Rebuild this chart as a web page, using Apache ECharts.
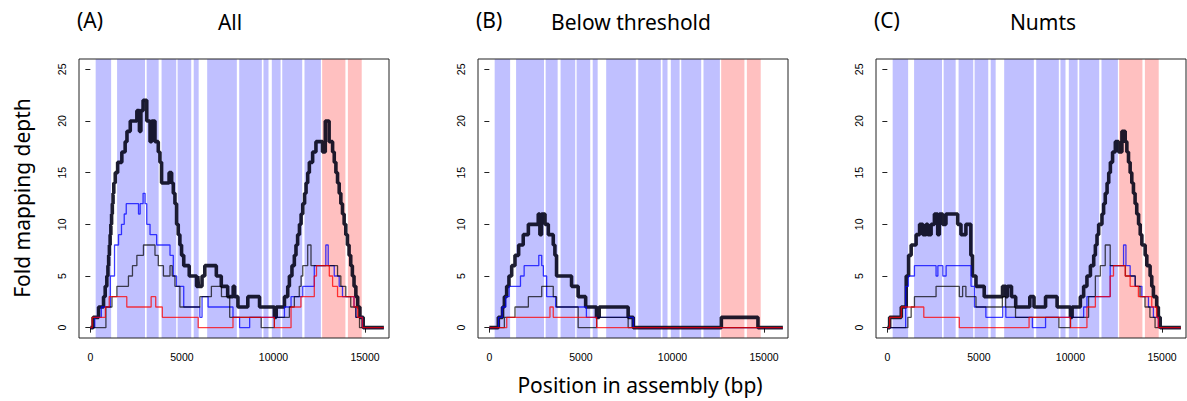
<!DOCTYPE html>
<html>
<head>
<meta charset="utf-8">
<script src="https://cdn.jsdelivr.net/npm/echarts@6/dist/echarts.min.js"></script>
<style>
  html, body { margin: 0; padding: 0; background: #fff; }
  #chart { width: 1187px; height: 401px; }
</style>
</head>
<body>
<div id="chart"></div>
<script>
// tick labels
var xTicks = [0, 5000, 10000, 15000];
var yTicks = [0, 5, 10, 15, 20, 25];

// annotated regions (bp), drawn as background bands
var blueBands = [[290, 1135], [1460, 2985], [3075, 3730], [3890, 4690], [4765, 5510], [5645, 5915],
  [6380, 8000], [8130, 9365], [9455, 9730], [9910, 10390], [10480, 11570], [11695, 12590]];
var redBands = [[12660, 13930], [14065, 14820]];

// depth steps: [position, depth], depth holds until the next position
var allTotal = [[0,0],[150,1],[450,2],[720,3],[810,4],[900,5],[960,6],[1000,7],[1040,8],[1080,9],[1120,10],
  [1160,11],[1200,12],[1240,13],[1280,14],[1360,15],[1490,16],[1720,17],[1900,18],[2000,19],[2180,20],[2540,21],
  [2680,19],[2760,21],[2880,22],[3080,20],[3260,18],[3350,20],[3530,18],[3710,17],[3800,16],[3890,14],[4300,15],
  [4440,14],[4530,13],[4620,12],[4710,10],[4800,9],[4890,8],[4980,7],[5100,6],[5400,5],[5800,4],[5870,5],[5900,4],
  [6100,5],[6250,6],[6880,5],[7150,4],[7500,3],[7800,4],[7880,3],[8060,2],[8600,3],[9240,2],[10050,1],[10150,2],
  [10600,3],[10780,4],[10870,5],[11010,6],[11140,7],[11230,8],[11320,9],[11420,10],[11510,11],[11600,12],
  [11700,13],[11780,14],[11870,15],[11960,16],[12140,17],[12320,18],[12680,17],[12830,20],[13040,18],[13230,17],
  [13320,16],[13410,15],[13500,14],[13590,13],[13680,12],[13770,11],[13860,10],[13950,9],[14040,8],[14130,7],
  [14220,6],[14310,5],[14400,4],[14500,3],[14600,2],[14720,1],[14900,0],[16030,0]];
var allBlue = [[0,0],[250,1],[600,2],[1090,5],[1320,8],[1540,9],[1700,10],[1850,11],[1960,12],[2630,11],[2720,12],
  [2880,13],[2990,12],[3080,10],[3260,9],[3620,8],[4350,7],[4530,5],[4710,4],[5100,2],[5980,1],[6100,3],[6430,2],
  [7790,1],[8150,0],[8700,1],[10600,2],[10960,3],[11600,4],[12230,6],[12860,8],[12990,6],[13320,5],[13590,4],
  [13770,3],[14400,2],[14500,1],[14860,0],[16030,0]];
var allGrey = [[0,0],[850,2],[1180,3],[1450,4],[2080,5],[2300,6],[2540,7],[2900,8],[3530,7],[3710,6],[3990,5],
  [4350,6],[4470,5],[4620,4],[4890,2],[5980,3],[6610,4],[7160,3],[7610,1],[9330,0],[10050,1],[10870,2],[11140,3],
  [11410,4],[11510,5],[11600,6],[11870,8],[12050,6],[13500,5],[13680,4],[13950,3],[14220,2],[14500,1],[14700,0],
  [16030,0]];
var allRed = [[0,0],[100,1],[820,2],[1030,3],[1990,2],[3320,3],[3570,2],[3930,1],[5890,0],[7790,1],[10050,0],
  [10960,2],[11500,3],[12230,5],[12350,6],[13050,5],[13230,4],[13500,3],[14400,2],[14600,1],[14860,0],[16030,0]];

var belowTotal = [[0,0],[490,1],[720,2],[820,3],[945,4],[1070,5],[1220,6],[1400,7],[1600,8],[1850,9],[2130,10],
  [2670,11],[2760,9],[2850,11],[3040,10],[3220,9],[3490,8],[3580,7],[3670,5],[4490,4],[4850,3],[5260,2],[5850,1],
  [5900,2],[5930,1],[6000,2],[7580,1],[7860,0],[12670,1],[14670,0],[16030,0]];
var belowBlue = [[0,0],[500,1],[700,2],[900,3],[1080,4],[1700,5],[1900,6],[2700,7],[2860,6],[2950,5],[3130,3],
  [3620,2],[5300,1],[7860,0],[16030,0]];
var belowGrey = [[0,0],[820,1],[1400,2],[2130,3],[2860,4],[3490,3],[3670,2],[4850,0],[5860,1],[7580,0],[16030,0]];
var belowRed = [[0,0],[950,1],[3310,2],[3490,1],[5860,0],[16030,0]];

var numtsTotal = [[0,0],[125,1],[760,2],[1030,5],[1160,7],[1300,8],[1570,9],[1760,10],[1940,9],[2120,10],[2210,9],
  [2390,10],[2570,11],[2750,9],[2840,11],[3020,10],[3200,11],[3840,10],[4020,9],[4290,10],[4560,7],[4650,5],
  [4840,4],[5290,3],[6290,4],[6470,3],[6560,4],[6780,3],[7010,2],[7780,3],[8010,2],[8640,3],[9270,2],[10000,1],
  [10090,2],[10540,3],[10720,4],[10900,5],[11090,6],[11270,7],[11360,8],[11450,9],[11540,10],[11720,11],
  [11810,12],[11900,13],[12000,14],[12090,15],[12180,16],[12300,17],[12450,18],[12630,17],[12810,19],[12990,18],
  [13080,17],[13170,16],[13260,15],[13350,14],[13440,13],[13530,12],[13620,11],[13720,10],[13810,9],[13900,8],
  [14080,7],[14170,6],[14350,5],[14440,4],[14530,3],[14710,2],[14800,1],[14900,0],[16030,0]];
var numtsBlue = [[0,0],[1000,4],[1150,5],[1480,6],[2660,5],[2760,6],[3030,5],[3210,6],[4570,4],[4750,2],[5380,1],
  [6300,2],[6470,1],[7920,0],[8640,1],[10720,2],[10900,3],[12170,6],[12900,8],[13030,6],[13260,5],[13530,4],
  [13900,3],[14260,2],[14530,1],[14800,0],[16030,0]];
var numtsGrey = [[0,0],[1120,1],[1300,2],[1480,3],[2660,4],[3930,3],[4110,4],[4290,3],[4840,2],[6280,3],[6460,2],
  [7000,1],[9370,0],[10000,1],[10990,3],[11360,5],[11630,6],[11900,8],[12170,6],[13000,5],[13540,4],[13800,3],
  [14070,2],[14340,1],[14620,0],[16030,0]];
var numtsRed = [[0,0],[125,1],[760,2],[1990,1],[3930,0],[7740,1],[10000,0],[10900,2],[11360,3],[12170,5],
  [12350,6],[12990,5],[13260,4],[13710,3],[14440,2],[14710,1],[14800,0],[16030,0]];

var panels = [
  { letter: '(A)', title: 'All', left: 79, titleX: 230, lines: [allTotal, allBlue, allGrey, allRed] },
  { letter: '(B)', title: 'Below threshold', left: 478, titleX: 631, lines: [belowTotal, belowBlue, belowGrey, belowRed] },
  { letter: '(C)', title: 'Numts', left: 876, titleX: 1043, lines: [numtsTotal, numtsBlue, numtsGrey, numtsRed] }
];

var titleFont = '"Noto Sans", "Open Sans", sans-serif';
var tickFont = '"Liberation Sans", Arial, sans-serif';
var lineStyles = [
  { color: 'rgba(0,0,20,0.88)', width: 3.6 },
  { color: 'rgba(0,0,255,0.75)', width: 1.3 },
  { color: 'rgba(0,0,0,0.7)', width: 1.3 },
  { color: 'rgba(255,0,0,0.75)', width: 1.3 }
];

var bandData = blueBands.map(function(b) {
  return [{ xAxis: b[0], itemStyle: { color: '#c0c0ff' } }, { xAxis: b[1] }];
}).concat(redBands.map(function(b) {
  return [{ xAxis: b[0], itemStyle: { color: '#ffc0c0' } }, { xAxis: b[1] }];
}));

function plain(v) { return String(v); }

var grids = [], xAxes = [], yAxes = [], series = [], graphics = [];
panels.forEach(function(p, i) {
  grids.push({
    left: p.left, top: 59, width: 310, height: 279,
    show: true, borderColor: '#222', borderWidth: 1, backgroundColor: 'transparent',
    containLabel: false, outerBoundsMode: 'none', z: 10
  });
  xAxes.push({
    type: 'value', gridIndex: i, min: -620, max: 16310,
    axisLine: { show: false },
    axisTick: { show: true, inside: false, length: 5, customValues: xTicks, lineStyle: { color: '#222' } },
    axisLabel: { customValues: xTicks, formatter: plain, margin: 13, color: '#000', fontSize: 10.5, fontFamily: tickFont },
    splitLine: { show: false }
  });
  yAxes.push({
    type: 'value', gridIndex: i, min: -1, max: 26,
    axisLine: { show: false },
    axisTick: { show: true, inside: false, length: 5, customValues: yTicks, lineStyle: { color: '#222' } },
    axisLabel: { customValues: yTicks, formatter: plain, rotate: 90, margin: 12, color: '#000', fontSize: 10.5, fontFamily: tickFont },
    splitLine: { show: false }
  });
  series.push({
    type: 'line', xAxisIndex: i, yAxisIndex: i, data: [], z: 1, silent: true,
    markArea: { silent: true, data: bandData }
  });
  p.lines.forEach(function(d, k) {
    series.push({
      type: 'line', xAxisIndex: i, yAxisIndex: i, data: d, step: 'end',
      showSymbol: false, z: 3 + k, silent: true,
      lineStyle: lineStyles[k]
    });
  });
  graphics.push({ type: 'text', left: p.left - 2, top: 9,
    style: { text: p.letter, font: '21px ' + titleFont, fill: '#000' } });
  graphics.push({ type: 'text', x: p.titleX, y: 22,
    style: { text: p.title, font: '21px ' + titleFont, fill: '#000', align: 'center', verticalAlign: 'middle' } });
});

graphics.push({ type: 'text', x: 640, y: 385,
  style: { text: 'Position in assembly (bp)', font: '21px ' + titleFont, fill: '#000', align: 'center', verticalAlign: 'middle' } });
graphics.push({ type: 'text', x: 22, y: 198, rotation: Math.PI / 2,
  style: { text: 'Fold mapping depth', font: '21px ' + titleFont, fill: '#000', align: 'center', verticalAlign: 'middle' } });

var chart = echarts.init(document.getElementById('chart'), null, { renderer: 'svg' });
chart.setOption({
  animation: false,
  backgroundColor: '#fff',
  grid: grids,
  xAxis: xAxes,
  yAxis: yAxes,
  series: series,
  graphic: graphics
});
</script>
</body>
</html>
